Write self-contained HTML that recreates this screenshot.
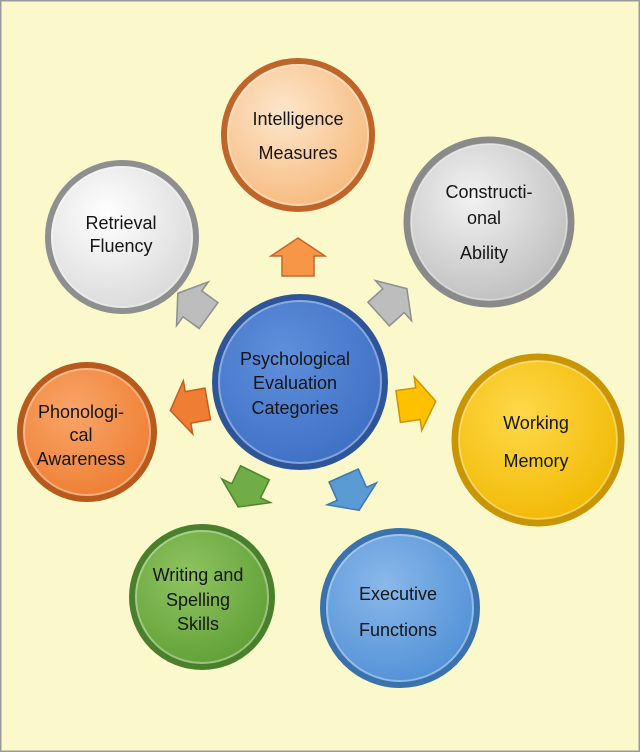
<!DOCTYPE html>
<html><head><meta charset="utf-8"><style>
html,body{margin:0;padding:0;background:#fff}
svg{display:block}
text{font-family:"Liberation Sans",sans-serif;font-size:18px;fill:#151515;text-anchor:middle}
</style></head><body>
<svg width="640" height="752" viewBox="0 0 640 752">
<defs>
<radialGradient id="gw" cx="40%" cy="35%" r="70%"><stop offset="0" stop-color="#ffffff"/><stop offset="1" stop-color="#d8d8d8"/></radialGradient>
<radialGradient id="go" cx="40%" cy="35%" r="70%"><stop offset="0" stop-color="#fde6cc"/><stop offset="1" stop-color="#f6b87a"/></radialGradient>
<radialGradient id="gg" cx="40%" cy="35%" r="70%"><stop offset="0" stop-color="#f2f2f2"/><stop offset="1" stop-color="#bdbdbd"/></radialGradient>
<radialGradient id="gy" cx="40%" cy="35%" r="70%"><stop offset="0" stop-color="#ffd84a"/><stop offset="1" stop-color="#f0b800"/></radialGradient>
<radialGradient id="gb" cx="40%" cy="35%" r="70%"><stop offset="0" stop-color="#8ab8ea"/><stop offset="1" stop-color="#4f8fd6"/></radialGradient>
<radialGradient id="gn" cx="40%" cy="35%" r="70%"><stop offset="0" stop-color="#8fc460"/><stop offset="1" stop-color="#5f9e35"/></radialGradient>
<radialGradient id="gr" cx="40%" cy="35%" r="70%"><stop offset="0" stop-color="#f9a568"/><stop offset="1" stop-color="#ed7d31"/></radialGradient>
<radialGradient id="gc" cx="40%" cy="35%" r="70%"><stop offset="0" stop-color="#5f8fdc"/><stop offset="1" stop-color="#3d6fc4"/></radialGradient>
<polygon id="ar" points="0,-20 27,-2 16,-2 16,18 -16,18 -16,-2 -27,-2"/>
</defs>
<rect x="0" y="0" width="640" height="752" fill="#fbf8cc" stroke="#9a9a9a" stroke-width="3"/>
<g stroke-width="1.5">
<use href="#ar" transform="translate(298,258)" fill="#f79646" stroke="#c8652a"/>
<use href="#ar" transform="translate(194,305) rotate(-54)" fill="#bdbdbd" stroke="#8f8f8f"/>
<use href="#ar" transform="translate(392,302) rotate(48)" fill="#bdbdbd" stroke="#8f8f8f"/>
<use href="#ar" transform="translate(416,404) rotate(82)" fill="#ffc000" stroke="#c99500"/>
<use href="#ar" transform="translate(351,492) rotate(156)" fill="#5b9bd5" stroke="#3d78b0"/>
<use href="#ar" transform="translate(247,489) rotate(206)" fill="#70ad47" stroke="#4d8430"/>
<use href="#ar" transform="translate(190,407) rotate(-100)" fill="#f07d34" stroke="#c0601e"/>
</g>
<g fill="none" stroke-opacity="0.45" stroke="#fff" stroke-width="2">
</g>
<circle cx="298" cy="135" r="74" fill="url(#go)" stroke="#c0652a" stroke-width="6"/>
<circle cx="489" cy="222" r="82" fill="url(#gg)" stroke="#8a8a8a" stroke-width="7"/>
<circle cx="538" cy="440" r="83" fill="url(#gy)" stroke="#c99500" stroke-width="7"/>
<circle cx="400" cy="608" r="77" fill="url(#gb)" stroke="#3a72ad" stroke-width="6"/>
<circle cx="202" cy="597" r="70" fill="url(#gn)" stroke="#4a7f2b" stroke-width="6"/>
<circle cx="87" cy="432" r="67" fill="url(#gr)" stroke="#b85a1c" stroke-width="6"/>
<circle cx="122" cy="237" r="74" fill="url(#gw)" stroke="#8f8f8f" stroke-width="6"/>
<circle cx="300" cy="382" r="85" fill="url(#gc)" stroke="#2e5597" stroke-width="6"/>
<g fill="none" stroke="#fff" stroke-opacity="0.35" stroke-width="2">
<circle cx="298" cy="135" r="70"/><circle cx="489" cy="222" r="78"/><circle cx="538" cy="440" r="79"/>
<circle cx="400" cy="608" r="73"/><circle cx="202" cy="597" r="66"/><circle cx="87" cy="432" r="63"/>
<circle cx="122" cy="237" r="70"/><circle cx="300" cy="382" r="81"/>
</g>
<text x="298" y="125">Intelligence</text><text x="298" y="159">Measures</text>
<text x="489" y="198" font-size="19">Constructi-</text><text x="484" y="224" font-size="19">onal</text><text x="484" y="259" font-size="19">Ability</text>
<text x="536" y="429" font-size="20">Working</text><text x="536" y="467" font-size="20">Memory</text>
<text x="398" y="600">Executive</text><text x="398" y="636">Functions</text>
<text x="198" y="581">Writing and</text><text x="198" y="606">Spelling</text><text x="198" y="630">Skills</text>
<text x="81" y="418" font-size="17">Phonologi-</text><text x="81" y="441" font-size="17">cal</text><text x="81" y="465" font-size="17">Awareness</text>
<text x="121" y="229" font-size="17">Retrieval</text><text x="121" y="252" font-size="17">Fluency</text>
<text x="295" y="365" font-size="18">Psychological</text><text x="295" y="389" font-size="18">Evaluation</text><text x="295" y="414" font-size="18">Categories</text>
</svg>
</body></html>
